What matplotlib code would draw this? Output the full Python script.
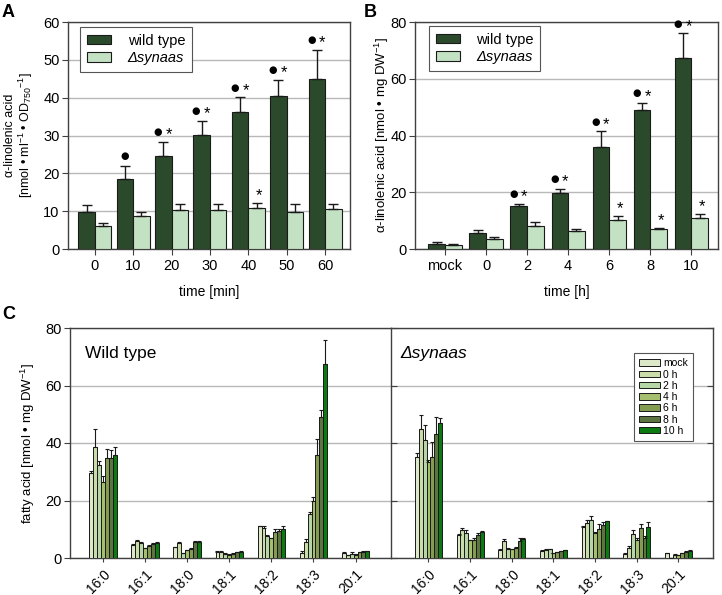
import matplotlib
matplotlib.use('Agg')
import matplotlib.pyplot as plt
import numpy as np

plt.rcParams['font.family'] = ['Liberation Sans', 'DejaVu Sans']
plt.rcParams['mathtext.fontset'] = 'custom'
plt.rcParams['mathtext.rm'] = 'Liberation Sans'
plt.rcParams['mathtext.it'] = 'Liberation Sans:italic'

# ---- Panel A data
a_times = ['0', '10', '20', '30', '40', '50', '60']
a_wt = [9.8, 18.5, 24.7, 30.2, 36.2, 40.4, 44.9]
a_wt_err = [1.7, 3.4, 3.6, 3.7, 3.9, 4.4, 7.7]
a_mut = [6.2, 8.7, 10.2, 10.3, 10.9, 9.8, 10.5]
a_mut_err = [0.8, 1.0, 1.6, 1.7, 1.3, 2.1, 1.4]
a_wt_marks = ['', 'dot', 'both', 'both', 'both', 'both', 'both']
a_mut_marks = ['', '', '', '', 'star', '', '']

# ---- Panel B data
b_times = ['mock', '0', '2', '4', '6', '8', '10']
b_wt = [1.9, 5.6, 15.3, 19.8, 35.8, 48.9, 67.4]
b_wt_err = [0.6, 1.0, 0.6, 1.5, 5.7, 2.5, 8.6]
b_mut = [1.5, 3.5, 8.2, 6.2, 10.3, 7.1, 10.9]
b_mut_err = [0.3, 0.6, 1.4, 0.8, 1.5, 0.4, 1.6]
b_wt_marks = ['', '', 'both', 'both', 'both', 'both', 'both']
b_mut_marks = ['', '', '', '', 'star', 'star', 'star']

# ---- Panel C data
fatty_acids = ['16:0', '16:1', '18:0', '18:1', '18:2', '18:3', '20:1']
c_series = ['mock', '0 h', '2 h', '4 h', '6 h', '8 h', '10 h']
c_colors = ['#dce8c8', '#c9dcaa', '#b7d6a8', '#a6bf6e', '#849c52', '#5c7440', '#0b7a10']

# rows = fatty acids, columns = series
c_wt = [
    [29.5, 38.7, 32.3, 26.6, 34.8, 34.8, 35.9],
    [4.5, 5.8, 5.2, 3.4, 4.3, 5.0, 5.2],
    [3.7, 5.1, 1.7, 2.7, 3.2, 5.5, 5.6],
    [2.1, 2.2, 1.4, 1.2, 1.5, 2.0, 2.1],
    [11.0, 10.5, 7.7, 6.9, 9.2, 9.5, 10.1],
    [1.9, 5.6, 15.3, 19.8, 35.8, 48.9, 67.4],
    [1.8, 0.9, 1.3, 1.1, 2.0, 2.2, 2.3],
]
c_wt_err = [
    [0.6, 6.1, 1.6, 1.8, 3.0, 2.6, 2.6],
    [0.3, 0.4, 0.3, 0.2, 0.3, 0.3, 0.3],
    [0.3, 0.5, 0.2, 0.2, 0.2, 0.3, 0.3],
    [0.2, 0.2, 0.2, 0.2, 0.2, 0.2, 0.2],
    [0.3, 0.5, 0.3, 0.2, 0.8, 0.5, 0.9],
    [0.6, 1.0, 0.6, 1.5, 5.7, 2.5, 8.6],
    [0.2, 0.2, 0.7, 0.2, 0.2, 0.2, 0.2],
]
c_mut = [
    [35.0, 44.7, 41.0, 33.4, 35.0, 43.3, 46.8],
    [8.1, 9.7, 8.7, 6.1, 6.4, 8.1, 9.1],
    [2.9, 6.0, 3.2, 3.1, 3.5, 6.0, 6.5],
    [2.5, 2.9, 3.0, 1.7, 2.0, 2.3, 2.7],
    [10.8, 12.1, 13.3, 8.7, 10.1, 11.6, 12.7],
    [1.5, 3.5, 8.2, 6.2, 10.3, 7.1, 10.9],
    [1.7, 0.0, 1.2, 1.0, 1.6, 2.2, 2.6],
]
c_mut_err = [
    [1.5, 5.0, 5.2, 0.7, 5.2, 5.8, 1.8],
    [0.4, 0.9, 0.9, 0.2, 0.5, 0.5, 0.3],
    [0.3, 0.6, 0.2, 0.2, 0.4, 0.9, 0.3],
    [0.2, 0.2, 0.2, 0.2, 0.2, 0.2, 0.2],
    [0.4, 1.2, 1.2, 0.3, 1.7, 0.9, 0.3],
    [0.3, 0.6, 1.4, 0.8, 1.5, 0.4, 1.6],
    [0.2, np.nan, 0.2, 0.2, 0.2, 0.2, 0.2],
]

WT_COLOR = '#2b4a2b'
MUT_COLOR = '#c3e1c3'
GRID = '#b8b8b8'
SPINE = '#404040'

W, H = 722, 595
fig = plt.figure(figsize=(W / 100, H / 100), dpi=100)


def px_axes(left, top, right, bottom):
    return fig.add_axes([left / W, 1 - bottom / H, (right - left) / W, (bottom - top) / H])


def style(ax):
    for s in ax.spines.values():
        s.set_color(SPINE)
        s.set_linewidth(1.0)
    ax.yaxis.grid(True, color=GRID, lw=1)
    ax.set_axisbelow(True)
    ax.tick_params(labelsize=10.5, length=4, color=SPINE)
    ax.tick_params(axis='y', pad=2)


def put_dot(ax, x, y, dx):
    ax.annotate('●', (x, y), xytext=(dx, 7), textcoords='offset points', ha='center',
                va='center', fontsize=7, family=['DejaVu Sans'])


def put_star(ax, x, y, dx):
    ax.annotate('*', (x, y), xytext=(dx, 5), textcoords='offset points', ha='center',
                va='center', fontsize=12)


def add_marks(ax, x, top, kind):
    if kind == 'dot':
        put_dot(ax, x, top, 0)
    elif kind == 'both':
        put_dot(ax, x, top, -4)
        put_star(ax, x, top, 4)
    elif kind == 'star':
        put_star(ax, x, top, 2)


def pair_panel(ax, labels, wt, wt_err, mut, mut_err, wt_marks, mut_marks, ymax, ystep, width,
               legend_xy):
    x = np.arange(len(labels))
    ax.bar(x - width / 2, wt, width, color=WT_COLOR, edgecolor='#1a1a1a', lw=0.8,
           yerr=[np.zeros(len(wt)), wt_err], capsize=3.5,
           error_kw=dict(ecolor='#1a1a1a', elinewidth=1, capthick=1), label='wild type', zorder=3)
    ax.bar(x + width / 2, mut, width, color=MUT_COLOR, edgecolor='#1a1a1a', lw=0.8,
           yerr=[np.zeros(len(mut)), mut_err], capsize=3.5,
           error_kw=dict(ecolor='#1a1a1a', elinewidth=1, capthick=1), label='Δsynaas',
           zorder=3)
    for i in range(len(labels)):
        add_marks(ax, x[i] - width / 2, wt[i] + wt_err[i], wt_marks[i])
        add_marks(ax, x[i] + width / 2, mut[i] + mut_err[i], mut_marks[i])
    ax.set_xticks(x)
    ax.set_xticklabels(labels)
    ax.set_ylim(0, ymax)
    ax.set_yticks(np.arange(0, ymax + 1, ystep))
    style(ax)
    leg = ax.legend(loc='upper left', bbox_to_anchor=legend_xy, fontsize=10.5,
                    fancybox=False, edgecolor='#555555', framealpha=1, handlelength=1.7,
                    handleheight=0.65, borderpad=0.45, labelspacing=0.25, handletextpad=1.1,
                    borderaxespad=0)
    leg.get_frame().set_linewidth(0.8)
    leg.get_texts()[1].set_fontstyle('italic')


# ---- Panel A
axA = px_axes(68, 22, 350, 249)
pair_panel(axA, a_times, a_wt, a_wt_err, a_mut, a_mut_err, a_wt_marks, a_mut_marks, 60, 10, 0.43,
           (0.043, 0.978))
axA.set_xlim(-0.7, 6.65)
axA.set_xlabel('time [min]', fontsize=10, labelpad=8)
axA.set_ylabel('α-linolenic acid\n[nmol • ml$^{-1}$ • OD$_{750}$$^{-1}$]', fontsize=9,
               linespacing=1.05)
axA.yaxis.set_label_coords(-0.118, 0.5)

# ---- Panel B
axB = px_axes(415, 22, 718, 249)
pair_panel(axB, b_times, b_wt, b_wt_err, b_mut, b_mut_err, b_wt_marks, b_mut_marks, 80, 20, 0.405,
           (0.046, 0.982))
axB.set_xlim(-0.73, 6.65)
axB.set_xlabel('time [h]', fontsize=10, labelpad=8)
axB.set_ylabel('α-linolenic acid [nmol • mg DW$^{-1}$]', fontsize=9.5)
axB.yaxis.set_label_coords(-0.08, 0.5)

# ---- Panel C
axC1 = px_axes(70, 328, 391, 558)
axC2 = px_axes(391, 328, 713, 558)
bw = 0.093
xc = np.arange(len(fatty_acids))
for ax, vals, errs, title, xlim, tx, fstyle in [
        (axC1, c_wt, c_wt_err, 'Wild type', (-0.78, 6.84), 0.047, 'normal'),
        (axC2, c_mut, c_mut_err, 'Δsynaas', (-0.9, 6.83), 0.028, 'italic')]:
    vals = np.array(vals)
    errs = np.array(errs)
    for j, name in enumerate(c_series):
        ax.bar(xc + (j - 3) * bw, vals[:, j], bw, color=c_colors[j], edgecolor='#1a1a1a',
               lw=0.7, yerr=[np.zeros(len(xc)), errs[:, j]], capsize=1.5,
               error_kw=dict(ecolor='#1a1a1a', elinewidth=0.8, capthick=0.8),
               label=name, zorder=3)
    ax.set_xlim(*xlim)
    ax.set_ylim(0, 80)
    ax.set_yticks(np.arange(0, 81, 20))
    ax.set_xticks(xc)
    ax.set_xticklabels(fatty_acids, rotation=45, ha='right', rotation_mode='anchor')
    style(ax)
    ax.tick_params(axis='x', length=3, labelsize=10)
    ax.text(tx, 0.89, title, transform=ax.transAxes, fontsize=12.5, va='center',
            fontstyle=fstyle)

axC1.spines['right'].set_visible(False)
axC1.set_ylabel('fatty acid [nmol • mg DW$^{-1}$]', fontsize=9.5)
axC1.yaxis.set_label_coords(-0.103, 0.5)
axC2.tick_params(axis='y', direction='in', left=True, right=True, labelleft=False, length=4)
legC = axC2.legend(loc='upper right', bbox_to_anchor=(0.938, 0.891), fontsize=7.5,
                   fancybox=False, edgecolor='#555555', framealpha=1, handlelength=2.0,
                   handleheight=0.6, borderpad=0.5, labelspacing=0.12, handletextpad=0.3,
                   borderaxespad=0)
legC.get_frame().set_linewidth(0.8)

# ---- Panel letters
fig.text(2 / W, 1 - 4 / H, 'A', fontsize=13, fontweight='bold', va='top')
fig.text(364 / W, 1 - 4 / H, 'B', fontsize=13, fontweight='bold', va='top')
fig.text(2 / W, 1 - 306 / H, 'C', fontsize=13, fontweight='bold', va='top')

fig.savefig('out.png', dpi=100)
